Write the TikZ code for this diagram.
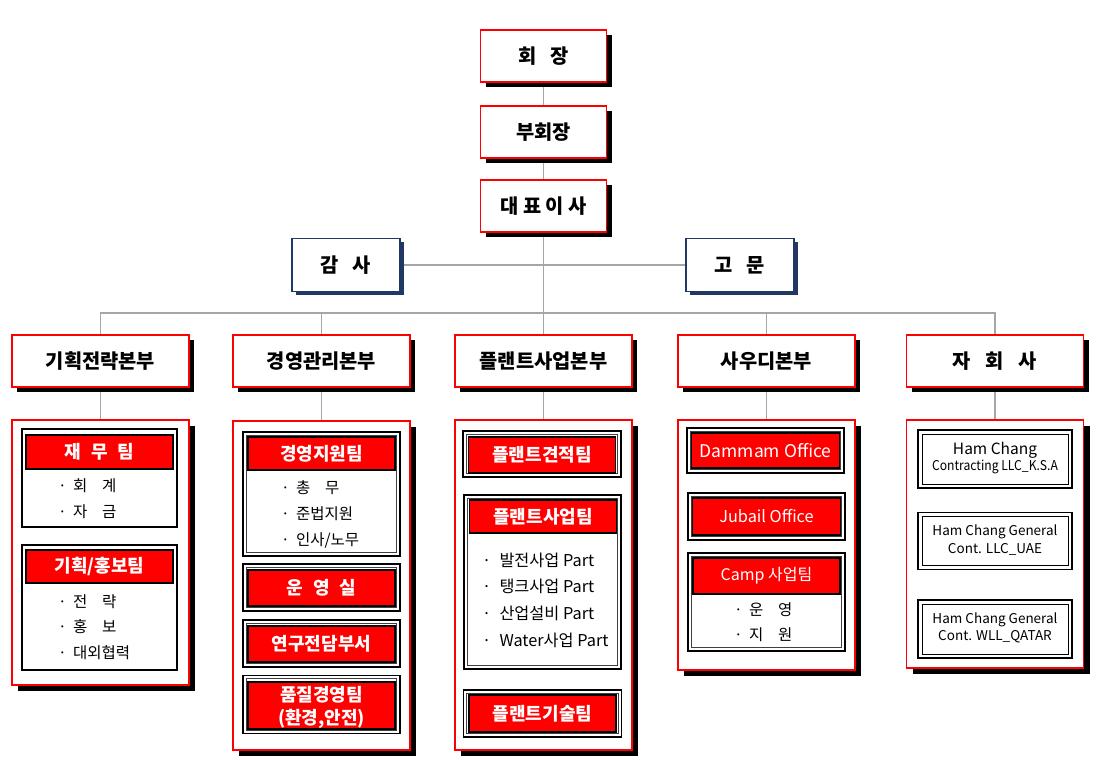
\documentclass[tikz,border=0pt]{standalone}
\usepackage{fontspec}
\usepackage{graphicx}
\setmainfont{Noto Sans CJK KR}
\usetikzlibrary{shadows}
\definecolor{linegray}{HTML}{A6A6A6}
\definecolor{navyc}{HTML}{1F3864}
\definecolor{bred}{HTML}{FF0000}
\newcommand\fTop{\fontsize{19.8pt}{22pt}\selectfont\bfseries}
\newcommand\fHead{\fontsize{18pt}{20pt}\selectfont\bfseries}
\newcommand\fItem{\fontsize{15.5pt}{18pt}\selectfont}
\newcommand\fItemB{\fontsize{16.3pt}{18pt}\selectfont}
\pgfdeclarelayer{background}
\pgfsetlayers{background,main}
\tikzset{
  conn/.style={draw=linegray, line width=1.5pt},
  topbox/.style={draw=bred, line width=1.8pt, fill=white, inner sep=0pt, outer sep=0pt,
    minimum width=126pt, minimum height=52pt, font=\fTop,
    drop shadow={shadow xshift=5pt, shadow yshift=-5pt, opacity=1, fill=black, draw=none}},
  navybox/.style={draw=navyc, line width=1.5pt, fill=white, inner sep=0pt, outer sep=0pt,
    minimum width=108pt, minimum height=53pt, font=\fTop,
    drop shadow={shadow xshift=3.5pt, shadow yshift=-3.5pt, opacity=1, fill=navyc, draw=none}},
  lvlbox/.style={draw=bred, line width=1.8pt, fill=white, inner sep=0pt, outer sep=0pt,
    minimum width=177pt, minimum height=52pt, font=\fTop,
    drop shadow={shadow xshift=5pt, shadow yshift=-5pt, opacity=1, fill=black, draw=none}},
  contbox/.style={draw=bred, line width=1.8pt, fill=white, inner sep=0pt, outer sep=0pt,
    minimum width=177pt,
    drop shadow={shadow xshift=6pt, shadow yshift=-6pt, opacity=1, fill=black, draw=none}},
  sbox/.style={draw=black, line width=2pt, inner sep=0pt, outer sep=0pt},
  dbox/.style={draw=black, line width=1.6pt, inner sep=0pt, outer sep=0pt,
    path picture={\draw[black!75, line width=0.7pt]
      ([shift={(3.2pt,3.2pt)}]path picture bounding box.south west) rectangle
      ([shift={(-3.2pt,-3.2pt)}]path picture bounding box.north east);}},
  ddbox/.style={draw=black, line width=1.6pt, inner sep=0pt, outer sep=0pt,
    path picture={\draw[black, line width=0.9pt]
      ([shift={(4pt,4pt)}]path picture bounding box.south west) rectangle
      ([shift={(-4pt,-4pt)}]path picture bounding box.north east);}},
  head/.style={fill=bred, draw=black, line width=1.2pt, text=white, font=\fHead, inner sep=0pt, outer sep=0pt, minimum width=147pt},
  htxt/.style={text=white, font=\fHead, inner sep=0pt},
  item/.style={anchor=west, inner sep=0pt, font=\fItem},
  etxt/.style={inner sep=0pt}
}
\begin{document}
\begin{tikzpicture}[x=1pt,y=-1pt]
\useasboundingbox (0,0) rectangle (1100,773);
% top chain
\node[topbox] (hoe) at (543.5,56) {회\hspace{0.7em}장};
\node[topbox] (bu) at (543.5,132) {부회장};
\node[topbox] (ceo) at (543.5,206) {대\hspace{0.22em}표\hspace{0.22em}이\hspace{0.22em}사};
\node[navybox] (gamsa) at (346,265) {감\hspace{0.7em}사};
\node[navybox] (gomun) at (740,265) {고\hspace{0.7em}문};
% level
\node[lvlbox] (l1) at (100.5,361) {기획전략본부};
\node[lvlbox] (l2) at (321.5,361) {경영관리본부};
\node[lvlbox] (l3) at (543.5,361) {플랜트사업본부};
\node[lvlbox] (l4) at (766.5,361) {사우디본부};
\node[lvlbox] (l5) at (995,361) {자\hspace{0.75em}회\hspace{0.75em}사};
\coordinate (bar) at (543.5,313);
% containers
\node[contbox, minimum height=265pt] (c1) at (100.5,552.5) {};
\node[contbox, minimum height=329pt] (c2) at (321.5,585.5) {};
\node[contbox, minimum height=330pt] (c3) at (543.5,585) {};
\node[contbox, minimum height=250pt] (c4) at (766.5,545) {};
\node[contbox, minimum height=248pt] (c5) at (995,544) {};
% column 1
\node[sbox, minimum width=155pt, minimum height=98pt] (b11) at (99.5,478) {};
\node[head, minimum height=34pt] (h11) at (99.5,452) {재\hspace{0.55em}무\hspace{0.55em}팀};
\node[item] (i111) at (58,486) {·\hspace{0.4em}회\hspace{0.95em}계};
\node[item] (i112) at (58,512) {·\hspace{0.4em}자\hspace{0.95em}금};
\node[sbox, minimum width=155pt, minimum height=125pt] (b12) at (99.5,607.5) {};
\node[head, minimum height=33pt] (h12) at (99.5,566.5) {기획/홍보팀};
\node[item] (i121) at (58,602) {·\hspace{0.4em}전\hspace{0.95em}략};
\node[item] (i122) at (58,627) {·\hspace{0.4em}홍\hspace{0.95em}보};
\node[item] (i123) at (58,653) {·\hspace{0.4em}대외협력};
% column 2
\node[dbox, minimum width=157pt, minimum height=124pt] (b21) at (321.5,494) {};
\node[head, minimum height=33pt] (h21) at (321.5,453.5) {경영지원팀};
\node[item] (i211) at (281,488) {·\hspace{0.4em}총\hspace{0.95em}무};
\node[item] (i212) at (281,514) {·\hspace{0.4em}준법지원};
\node[item] (i213) at (281,540) {·\hspace{0.4em}인사/노무};
\node[dbox, minimum width=157pt, minimum height=47pt] (b22) at (321.5,587.5) {};
\node[head, minimum height=36pt] (h22) at (321.5,588) {운\hspace{0.55em}영\hspace{0.55em}실};
\node[dbox, minimum width=157pt, minimum height=47pt] (b23) at (321.5,643.5) {};
\node[head, minimum height=36pt] (h23) at (321.5,644) {연구전담부서};
\node[dbox, minimum width=157pt, minimum height=58pt] (b24) at (321.5,704.5) {};
\node[head, minimum height=47pt] (h24) at (321.5,705.5) {};
\node[htxt] (h24a) at (321.5,695) {품질경영팀};
\node[htxt] (h24b) at (321.5,719) {(환경,안전)};
% column 3
\node[dbox, minimum width=158pt, minimum height=46pt] (b31) at (542,454) {};
\node[head, minimum height=36pt] (h31) at (542,455) {플랜트견적팀};
\node[dbox, minimum width=157pt, minimum height=174pt] (b32) at (542.5,582) {};
\node[head, minimum height=33pt] (h32) at (543,516.5) {플랜트사업팀};
\node[item, font=\fItemB] (i321) at (482,560) {·\hspace{0.5em}발전사업 Part};
\node[item, font=\fItemB] (i322) at (482,586) {·\hspace{0.5em}탱크사업 Part};
\node[item, font=\fItemB] (i323) at (482,613) {·\hspace{0.5em}산업설비 Part};
\node[item, font=\fItemB] (i324) at (482,640) {·\hspace{0.5em}Water사업 Part};
\node[dbox, minimum width=158pt, minimum height=47pt] (b33) at (542.5,713.5) {};
\node[head, minimum height=37pt] (h33) at (542.5,713.5) {플랜트기술팀};
% column 4
\node[dbox, minimum width=157pt, minimum height=45pt] (b41) at (765.5,450.5) {};
\node[head, minimum height=35pt, minimum width=148pt, font=\fontsize{17.5pt}{20pt}\selectfont] (h41) at (765.5,450.5) {Dammam Office};
\node[dbox, minimum width=157pt, minimum height=47pt] (b42) at (766.5,516.5) {};
\node[head, minimum height=37pt, minimum width=148pt, font=\fontsize{16.3pt}{19pt}\selectfont] (h42) at (766.5,516.5) {Jubail Office};
\node[dbox, minimum width=157pt, minimum height=98pt] (b43) at (766.5,602) {};
\node[head, minimum height=36pt, minimum width=147pt, font=\fontsize{16pt}{19pt}\selectfont] (h43) at (766.5,576) {Camp 사업팀};
\node[item] (i431) at (734,610) {·\hspace{0.4em}운\hspace{0.95em}영};
\node[item] (i432) at (734,635) {·\hspace{0.4em}지\hspace{0.95em}원};
% column 5
\node[ddbox, minimum width=154pt, minimum height=58pt] (b51) at (995,459) {};
\node[etxt, font=\fontsize{15.5pt}{17pt}\selectfont] (t511) at (995,450) {Ham Chang};
\node[etxt, font=\fontsize{13.5pt}{15pt}\selectfont] (t512) at (995,467) {\scalebox{0.9}[1]{Contracting LLC\_K.S.A}};
\node[ddbox, minimum width=154pt, minimum height=57pt] (b52) at (995,541) {};
\node[etxt, font=\fontsize{13.5pt}{15pt}\selectfont] (t521) at (995,532) {Ham Chang General};
\node[etxt, font=\fontsize{13.5pt}{15pt}\selectfont] (t522) at (995,549) {Cont. LLC\_UAE};
\node[ddbox, minimum width=154pt, minimum height=58pt] (b53) at (995,629) {};
\node[etxt, font=\fontsize{13.5pt}{15pt}\selectfont] (t531) at (995,620) {Ham Chang General};
\node[etxt, font=\fontsize{13.5pt}{15pt}\selectfont] (t532) at (995,637) {Cont. WLL\_QATAR};
% connectors
\begin{pgfonlayer}{background}
\draw[conn] (hoe.south) -- (bu.north);
\draw[conn] (bu.south) -- (ceo.north);
\draw[conn] (ceo.south) -- (l3.north);
\draw[conn] (gamsa.east) -- (gomun.west);
\draw[conn] (l1.north) -- (l1.north |- bar) -- (l5.north |- bar) -- (l5.north);
\draw[conn] (l2.north) -- (l2.north |- bar);
\draw[conn] (l4.north) -- (l4.north |- bar);
\draw[conn] (l1.south) -- (c1.north);
\draw[conn] (l2.south) -- (c2.north);
\draw[conn] (l3.south) -- (c3.north);
\draw[conn] (l4.south) -- (c4.north);
\draw[conn] (l5.south) -- (c5.north);
\end{pgfonlayer}
\end{tikzpicture}
\end{document}
